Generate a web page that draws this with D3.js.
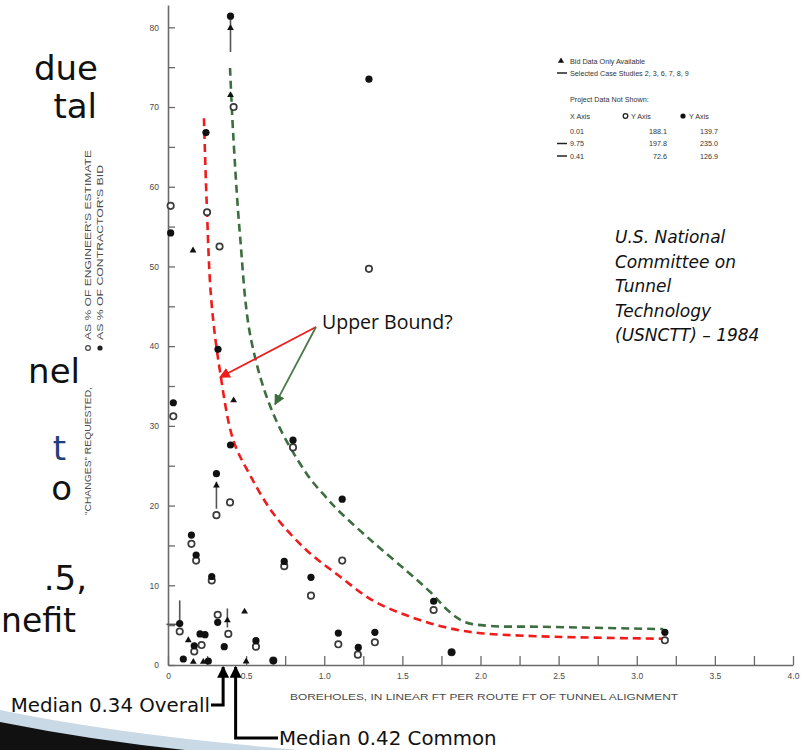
<!DOCTYPE html>
<html>
<head>
<meta charset="utf-8">
<script src="https://cdn.jsdelivr.net/npm/d3@7"></script>
<style>
  body { margin: 0; background: #fff; }
  svg { display: block; }
</style>
</head>
<body>
<div id="chart"></div>
<script>
// ---- data ----
// [boreholes ft / route ft, changes %]
var contractorBid = [
  [0.40, 81.4], [0.243, 66.8], [0.017, 54.2], [0.32, 39.6], [0.034, 32.9],
  [0.40, 27.6], [0.80, 28.2], [0.31, 24.0], [0.15, 16.3], [0.18, 13.8],
  [0.28, 11.1], [0.744, 13.0], [0.915, 11.0], [1.115, 20.8], [1.09, 4.0],
  [1.218, 2.2], [1.324, 4.1], [1.70, 8.0], [1.815, 1.6], [1.286, 73.5],
  [3.18, 4.1], [0.075, 5.2], [0.168, 2.4], [0.098, 0.75], [0.205, 3.9],
  [0.237, 3.8], [0.258, 0.5], [0.318, 5.35], [0.36, 2.3], [0.563, 3.05],
  [0.674, 0.55]
];
var engineerEstimate = [
  [0.42, 70.0], [0.25, 56.8], [0.017, 57.6], [0.33, 52.5], [1.286, 49.7],
  [0.034, 31.2], [0.80, 27.3], [0.31, 18.8], [0.397, 20.4], [0.15, 15.2],
  [0.18, 13.1], [0.28, 10.6], [0.744, 12.4], [0.915, 8.7], [1.115, 13.1],
  [1.09, 2.6], [1.215, 1.3], [1.324, 2.85], [1.70, 6.9], [1.815, 1.6],
  [3.18, 3.1], [0.075, 4.2], [0.168, 1.7], [0.215, 2.5], [0.318, 6.3],
  [0.386, 3.9], [0.563, 2.3], [0.674, 0.55]
];
var bidOnly = [
  [0.40, 79.9], [0.40, 71.5], [0.16, 52.0], [0.42, 33.2], [0.31, 22.5],
  [0.38, 5.6], [0.49, 6.7], [0.50, 0.45], [0.13, 3.1], [0.162, 0.4], [0.226, 0.4]
];
// selected case studies: [x, yFrom, yTo]
var caseStems = [
  [0.40, 81.4, 76.9], [0.31, 23.0, 19.6], [0.075, 8.1, 5.2], [0.38, 7.1, 4.7]
];
var caseDashes = [[-0.01, 0.07, 5.1]];

var redBound = [
  [0.23, 68.6], [0.247, 58.3], [0.277, 45.8], [0.333, 36.8], [0.418, 28.2],
  [0.52, 24.0], [0.674, 19.0], [0.887, 14.4], [1.10, 11.1], [1.31, 8.1],
  [1.53, 6.2], [1.74, 4.9], [1.95, 4.1], [2.38, 3.6], [3.17, 3.3]
];
var greenBound = [
  [0.397, 74.9], [0.417, 66.7], [0.46, 54.1], [0.53, 41.0], [0.674, 31.5],
  [0.887, 24.0], [1.0, 21.3], [1.10, 19.2], [1.313, 15.4], [1.527, 11.8],
  [1.676, 9.2], [1.80, 6.7], [1.90, 5.4], [2.06, 4.9], [2.38, 4.8], [3.17, 4.5]
];

var xTicks = d3.range(0, 4.001, 0.25);
var yTicks = d3.range(0, 81, 5);
var medians = [0.34, 0.42];
var medianLabels = ["Median 0.34 Overall", "Median 0.42 Common"];

var notShownHead = ["X Axis", "Y Axis", "Y Axis"];
var notShownX = ["0.01", "9.75", "0.41"];
var notShownOpen = ["188.1", "197.8", "72.6"];
var notShownFilled = ["139.7", "235.0", "126.9"];
var notShownCase = [false, true, true];

var sourceLines = ["U.S. National", "Committee on", "Tunnel", "Technology", "(USNCTT) \u2013 1984"];
var slideWords = ["due", "tal", "nel", "t", "o", ".5,", "nefit"];

// ---- layout ----
var W = 809, H = 750;
var x = d3.scaleLinear().domain([0, 4]).range([168, 793]);
var y = d3.scaleLinear().domain([0, 82.8]).range([665, 5]);

var svg = d3.select("#chart").append("svg")
  .attr("width", W)
  .attr("height", H)
  .style("font-family", "'Liberation Sans', Arial, sans-serif");

// slide text peeking out on the left
var slideEnds = [98, 97, 80, 66, 72, 87, 76];
var slideBase = [80, 118, 383, 460, 500, 590, 632];
svg.append("g").selectAll("text").data(slideWords).enter().append("text")
  .attr("x", function(d, i) { return slideEnds[i]; })
  .attr("y", function(d, i) { return slideBase[i]; })
  .attr("text-anchor", "end")
  .style("font-family", "'DejaVu Sans', sans-serif")
  .style("font-size", function(d) { return d == "nefit" ? "33px" : "34px"; })
  .style("fill", function(d) { return d == "t" ? "#1f3f7a" : "#111"; })
  .text(function(d) { return d; });

// decorative swoosh bottom-left
svg.append("path")
  .attr("d", "M0,710 Q120,735 300,750 L0,750 Z")
  .style("fill", "#c9d9e6");
svg.append("path")
  .attr("d", "M0,722 Q90,740 185,750 L0,750 Z")
  .style("fill", "#111");

// axes
var axisColor = "#6a6a6a";
var gx = svg.append("g")
  .attr("transform", "translate(0," + y(0) + ")")
  .call(d3.axisBottom(x).tickValues(xTicks).tickSize(-9).tickSizeOuter(0).tickPadding(8)
    .tickFormat(function(d) { return (d * 2) % 1 == 0 ? (d == 0 ? "0" : d3.format(".1f")(d)) : ""; }));
var gy = svg.append("g")
  .attr("transform", "translate(" + x(0) + ",0)")
  .call(d3.axisLeft(y).tickValues(yTicks).tickSize(-7).tickSizeOuter(0).tickPadding(9)
    .tickFormat(function(d) { return d % 10 == 0 ? d : ""; }));
[gx, gy].forEach(function(g) {
  g.select(".domain").attr("stroke", axisColor).attr("stroke-width", 1.6);
  g.selectAll(".tick line").attr("stroke", axisColor).attr("stroke-width", 1.3);
  g.selectAll(".tick text").style("fill", "#4a4a4a").style("font-size", "8.5px")
    .style("font-family", "'Liberation Sans', Arial, sans-serif");
});

// axis titles
svg.append("text")
  .attr("x", 290).attr("y", 700)
  .attr("textLength", 388).attr("lengthAdjust", "spacingAndGlyphs")
  .style("font-size", "8.5px").style("fill", "#4a4a4a")
  .text("BOREHOLES, IN LINEAR FT PER ROUTE FT OF TUNNEL ALIGNMENT");

var ylab = svg.append("g").style("fill", "#4a4a4a").style("font-size", "9px");
ylab.append("text")
  .attr("transform", "translate(91,515) rotate(-90)")
  .attr("textLength", 128).attr("lengthAdjust", "spacingAndGlyphs")
  .text("\u201CCHANGES\u201D REQUESTED,");
ylab.append("text")
  .attr("transform", "translate(91,340) rotate(-90)")
  .attr("textLength", 190).attr("lengthAdjust", "spacingAndGlyphs")
  .text("AS % OF ENGINEER'S ESTIMATE");
ylab.append("text")
  .attr("transform", "translate(103,340) rotate(-90)")
  .attr("textLength", 175).attr("lengthAdjust", "spacingAndGlyphs")
  .text("AS % OF CONTRACTOR'S BID");
ylab.append("circle").attr("cx", 88).attr("cy", 348).attr("r", 2.4)
  .style("fill", "none").style("stroke", "#444").style("stroke-width", 1.2);
ylab.append("circle").attr("cx", 100).attr("cy", 348).attr("r", 2.6).style("fill", "#222");

// bounds
var line = d3.line()
  .x(function(d) { return x(d[0]); })
  .y(function(d) { return y(d[1]); })
  .curve(d3.curveCatmullRom.alpha(0.5));
svg.append("path").datum(greenBound).attr("d", line)
  .style("fill", "none").style("stroke", "#3d6e3f").style("stroke-width", 2.6)
  .style("stroke-dasharray", "8,5");
svg.append("path").datum(redBound).attr("d", line)
  .style("fill", "none").style("stroke", "#f01c1c").style("stroke-width", 2.6)
  .style("stroke-dasharray", "8,5");

// case study stems
var marks = svg.append("g");
marks.selectAll("line.stem").data(caseStems).enter().append("line")
  .attr("class", "stem")
  .attr("x1", function(d) { return x(d[0]); }).attr("x2", function(d) { return x(d[0]); })
  .attr("y1", function(d) { return y(d[1]); }).attr("y2", function(d) { return y(d[2]); })
  .style("stroke", "#555").style("stroke-width", 1.6);
marks.selectAll("line.dash").data(caseDashes).enter().append("line")
  .attr("class", "dash")
  .attr("x1", function(d) { return x(d[0]); }).attr("x2", function(d) { return x(d[1]); })
  .attr("y1", function(d) { return y(d[2]); }).attr("y2", function(d) { return y(d[2]); })
  .style("stroke", "#555").style("stroke-width", 1.6);

// points
marks.selectAll("circle.open").data(engineerEstimate).enter().append("circle")
  .attr("class", "open")
  .attr("cx", function(d) { return x(d[0]); })
  .attr("cy", function(d) { return y(d[1]); })
  .attr("r", 3.2)
  .style("fill", "#fff").style("stroke", "#3a3a3a").style("stroke-width", 1.7);
marks.selectAll("circle.filled").data(contractorBid).enter().append("circle")
  .attr("class", "filled")
  .attr("cx", function(d) { return x(d[0]); })
  .attr("cy", function(d) { return y(d[1]); })
  .attr("r", 3.6)
  .style("fill", "#111");
marks.selectAll("path.tri").data(bidOnly).enter().append("path")
  .attr("class", "tri")
  .attr("transform", function(d) { return "translate(" + x(d[0]) + "," + y(d[1]) + ")"; })
  .attr("d", d3.symbol(d3.symbolTriangle).size(20))
  .style("fill", "#111");

// legend
var lg = svg.append("g").style("fill", "#333").style("font-size", "7.2px");
lg.append("path").attr("transform", "translate(561,61)")
  .attr("d", d3.symbol(d3.symbolTriangle).size(16)).style("fill", "#111");
lg.append("text").attr("x", 570).attr("y", 63.5).text("Bid Data Only Available");
lg.append("line").attr("x1", 557).attr("x2", 567).attr("y1", 73).attr("y2", 73)
  .style("stroke", "#222").style("stroke-width", 1.5);
lg.append("text").attr("x", 570).attr("y", 75.5).text("Selected Case Studies 2, 3, 6, 7, 8, 9");
lg.append("text").attr("x", 570).attr("y", 101.5).text("Project Data Not Shown:");
lg.append("text").attr("x", 570).attr("y", 118.5).text(notShownHead[0]);
lg.append("circle").attr("cx", 625.5).attr("cy", 116).attr("r", 2.3)
  .style("fill", "none").style("stroke", "#222").style("stroke-width", 1.3);
lg.append("text").attr("x", 631).attr("y", 118.5).text(notShownHead[1]);
lg.append("circle").attr("cx", 683).attr("cy", 116).attr("r", 2.6).style("fill", "#111");
lg.append("text").attr("x", 689).attr("y", 118.5).text(notShownHead[2]);
var rowY = [134, 146, 158.5];
notShownX.forEach(function(v, i) {
  lg.append("text").attr("x", 570).attr("y", rowY[i]).text(v);
  lg.append("text").attr("x", 667).attr("y", rowY[i]).attr("text-anchor", "end").text(notShownOpen[i]);
  lg.append("text").attr("x", 718).attr("y", rowY[i]).attr("text-anchor", "end").text(notShownFilled[i]);
  if (notShownCase[i]) {
    lg.append("line").attr("x1", 557).attr("x2", 567).attr("y1", rowY[i] - 2.5).attr("y2", rowY[i] - 2.5)
      .style("stroke", "#222").style("stroke-width", 1.5);
  }
});

// source note
svg.append("g").selectAll("text").data(sourceLines).enter().append("text")
  .attr("x", 615)
  .attr("y", function(d, i) { return 243 + i * 24.5; })
  .style("font-family", "'DejaVu Sans', sans-serif")
  .style("font-style", "italic")
  .style("font-size", "17px")
  .style("fill", "#111")
  .text(function(d) { return d; });

// "Upper Bound?" call-out
var defs = svg.append("defs");
[["ahRed", "#f01c1c", 6], ["ahGreen", "#3d6e3f", 6], ["ahBlack", "#000", 4]].forEach(function(m) {
  defs.append("marker").attr("id", m[0])
    .attr("viewBox", "0 0 10 10").attr("refX", 9).attr("refY", 5)
    .attr("markerWidth", m[2]).attr("markerHeight", m[2])
    .attr("markerUnits", "strokeWidth")
    .attr("orient", "auto")
    .append("path").attr("d", "M0,0 L10,5 L0,10 Z").style("fill", m[1]);
});
var calloutFrom = [0.947, 42.4];
svg.append("line")
  .attr("x1", x(calloutFrom[0])).attr("y1", y(calloutFrom[1]))
  .attr("x2", x(0.333)).attr("y2", y(36.1))
  .style("stroke", "#f01c1c").style("stroke-width", 1.8)
  .attr("marker-end", "url(#ahRed)");
svg.append("line")
  .attr("x1", x(calloutFrom[0])).attr("y1", y(calloutFrom[1]))
  .attr("x2", x(0.685)).attr("y2", y(32.7))
  .style("stroke", "#4a7a4a").style("stroke-width", 1.8)
  .attr("marker-end", "url(#ahGreen)");
svg.append("text")
  .attr("x", 322).attr("y", 329)
  .style("font-family", "'Open Sans', sans-serif")
  .style("font-size", "19.5px")
  .style("fill", "#111")
  .text("Upper Bound?");

// median call-outs
var medText = svg.append("g")
  .style("font-family", "'DejaVu Sans', sans-serif")
  .style("font-size", "19.8px")
  .style("fill", "#111");
var elbowY = [705, 738];
medians.forEach(function(m, i) {
  var mx = x(m) + 2;
  var pts = i == 0
    ? [[211, elbowY[0]], [mx, elbowY[0]], [mx, 667]]
    : [[278, elbowY[1]], [mx, elbowY[1]], [mx, 667]];
  svg.append("path")
    .attr("d", d3.line()(pts))
    .style("fill", "none").style("stroke", "#000").style("stroke-width", 3)
    .attr("marker-end", "url(#ahBlack)");
  medText.append("text")
    .attr("x", i == 0 ? 210 : 279)
    .attr("y", elbowY[i] + 7)
    .attr("text-anchor", i == 0 ? "end" : "start")
    .text(medianLabels[i]);
});
</script>
</body>
</html>
